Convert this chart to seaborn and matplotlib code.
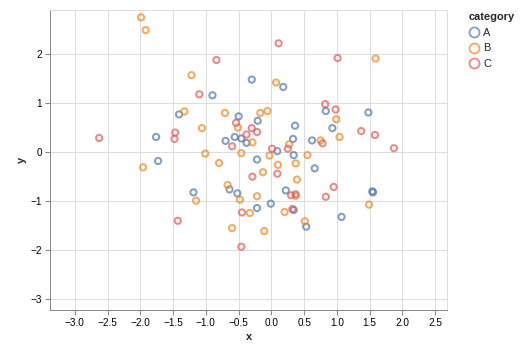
import numpy as np
import pandas as pd
import seaborn as sns
import matplotlib.pyplot as plt
from matplotlib.lines import Line2D
from matplotlib.ticker import FuncFormatter

# Point coordinates per category
categories = ["A", "B", "C"]
colors = ["#4c78a8", "#f58518", "#e45756"]

a_x = [-1.76, -1.73, -1.41, -0.90, -0.30, -0.50, -0.21, -0.70, -0.56, -0.46, -0.38,
       -0.22, 0.09, 0.18, 0.83, 1.48, 0.93, 0.36, 0.33, 0.62, 0.34, 0.66, -1.19,
       -0.64, -0.52, -0.22, -0.01, 0.22, 1.54, 1.55, 1.07, 0.53, 0.34]
a_y = [0.31, -0.18, 0.77, 1.16, 1.48, 0.73, 0.64, 0.23, 0.31, 0.28, 0.19,
       -0.15, 0.02, 1.33, 0.84, 0.81, 0.49, 0.54, 0.27, 0.24, -0.06, -0.33, -0.82,
       -0.76, -0.84, -1.14, -1.05, -0.78, -0.80, -0.82, -1.32, -1.52, -1.18]

b_x = [-1.99, -1.92, -1.22, -1.33, -0.71, -1.06, -0.51, -0.17, -0.06, 0.07, -0.29,
       -1.01, -0.46, -0.03, -0.80, -1.96, 0.10, 1.59, 0.99, 1.04, 0.75, 0.27, 0.55,
       0.37, -1.15, -0.67, -0.48, -0.33, -0.60, -0.11, -0.22, -0.13, 0.39, 0.37,
       1.49, 0.51, 0.20]
b_y = [2.75, 2.49, 1.57, 0.83, 0.80, 0.49, 0.50, 0.80, 0.84, 1.42, 0.20,
       -0.03, -0.02, -0.07, -0.22, -0.31, -0.26, 1.91, 0.67, 0.31, 0.24, 0.16, -0.06,
       -0.23, -0.99, -0.67, -0.97, -1.24, -1.55, -1.61, -0.90, -0.41, -0.56, -0.89,
       -1.07, -1.41, -1.22]

c_x = [-2.63, -0.84, -1.10, -1.47, -1.48, -0.54, -0.38, -0.30, -0.22, -0.60, 0.01,
       0.11, 1.01, 0.82, 0.98, 1.37, 1.58, 1.87, 0.78, 0.25, -1.43, -0.45, -0.46,
       -0.29, 0.09, 0.95, 0.30, 0.37, 0.83, 0.32]
c_y = [0.29, 1.88, 1.18, 0.40, 0.27, 0.60, 0.36, 0.49, 0.41, 0.12, 0.07,
       2.22, 1.92, 0.98, 0.87, 0.43, 0.35, 0.08, 0.18, 0.07, -1.40, -1.23, -1.93,
       -0.50, -0.44, -0.71, -0.88, -0.86, -0.91, -1.16]

x_ticks = [-3.0, -2.5, -2.0, -1.5, -1.0, -0.5, 0.0, 0.5, 1.0, 1.5, 2.0, 2.5]
y_ticks = [-3, -2, -1, 0, 1, 2]

df = pd.concat([
    pd.DataFrame({"x": a_x, "y": a_y, "category": "A"}),
    pd.DataFrame({"x": b_x, "y": b_y, "category": "B"}),
    pd.DataFrame({"x": c_x, "y": c_y, "category": "C"}),
], ignore_index=True)

sns.set_theme(style="white")
plt.rcParams["font.family"] = ["Liberation Sans", "DejaVu Sans"]
plt.rcParams["axes.unicode_minus"] = True

W, H = 526, 347
fig = plt.figure(figsize=(W / 100, H / 100), dpi=100)
left, right, top, bottom = 50, 447, 10, 310
ax = fig.add_axes([left / W, 1 - bottom / H, (right - left) / W, (bottom - top) / H])

palette = dict(zip(categories, colors))
sns.scatterplot(data=df, x="x", y="y", hue="category", hue_order=categories,
                palette=palette, s=20, linewidth=1.45, ax=ax, legend=False, zorder=3)

# hollow circles with stroke in the category colour
pts = ax.collections[0]
fc = pts.get_facecolors().copy()
fc[:, 3] = 0.7
pts.set_facecolors("none")
pts.set_edgecolors(fc)

ax.set_xlim(-3.38, 2.68)
ax.set_ylim(-3.22, 2.9)
ax.set_xticks(x_ticks)
ax.set_yticks(y_ticks)
ax.xaxis.set_major_formatter(FuncFormatter(lambda v, p: f"{v:.1f}".replace("-", "\u2212")))
ax.yaxis.set_major_formatter(FuncFormatter(lambda v, p: f"{v:.0f}".replace("-", "\u2212")))

ax.grid(True, color="#dddddd", linewidth=0.72, zorder=0)
ax.set_axisbelow(True)
for side in ("top", "right"):
    ax.spines[side].set_color("#dddddd")
    ax.spines[side].set_linewidth(0.72)
for side in ("left", "bottom"):
    ax.spines[side].set_color("#888888")
    ax.spines[side].set_linewidth(0.72)
ax.tick_params(axis="both", which="major", length=3.6, width=0.72, color="#888888",
               labelsize=7.2, labelcolor="#000000", pad=2, bottom=True, left=True)

ax.set_xlabel("x", fontsize=7.9, fontweight="bold", labelpad=3)
ax.set_ylabel("y", fontsize=7.9, fontweight="bold", labelpad=3)

handles = [Line2D([], [], marker="o", linestyle="", markerfacecolor="none",
                  markeredgecolor=c, markeredgewidth=1.3, markersize=7.2, alpha=0.7)
           for c in colors]
leg = fig.legend(handles, categories, title="category", loc="upper left",
                 bbox_to_anchor=(464 / W, 1 - 8 / H), frameon=False,
                 fontsize=7.9, title_fontproperties={"weight": "bold", "size": 7.9},
                 alignment="left", handlelength=1.0, handletextpad=0.35,
                 labelspacing=0.5, borderaxespad=0)

fig.savefig("out.png", dpi=100)
